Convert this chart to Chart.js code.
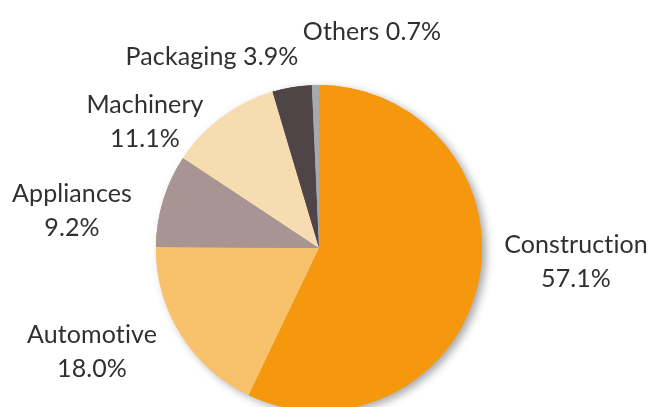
<!DOCTYPE html>
<html>
<head>
<meta charset="utf-8">
<script src="https://cdn.jsdelivr.net/npm/chart.js@4.4.1/dist/chart.umd.min.js"></script>
<style>
    html, body { margin: 0; padding: 0; background: #fff; overflow: hidden; }
    #wrap { width: 650px; height: 407px; overflow: hidden; }
    canvas { display: block; }
</style>
</head>
<body>
<div id="wrap"><canvas id="pieChart" width="650" height="420"></canvas></div>
<script>
// Market share by end use (%)
const categories = ['Construction', 'Automotive', 'Appliances', 'Machinery', 'Packaging', 'Others'];
const shares = [57.1, 18.0, 9.2, 11.1, 3.9, 0.7];
const sliceColors = ['#F6980E', '#F8C26C', '#A89593', '#F6DDB1', '#4F4446', '#A7A9AC'];

// where each label sits (text baseline, centred) and whether it wraps
const labelSpots = [
    { x: 576, y: 253, wrap: true },
    { x: 92, y: 343, wrap: true },
    { x: 72, y: 202, wrap: true },
    { x: 145, y: 113, wrap: true },
    { x: 212, y: 65, wrap: false },
    { x: 372, y: 40, wrap: false }
];

const pieExtras = {
    id: 'pieExtras',
    // soft drop shadow: draw the arcs once with a shadow, the normal pass covers the inner edges
    beforeDatasetsDraw(chart) {
        const ctx = chart.ctx;
        const meta = chart.getDatasetMeta(0);
        ctx.save();
        ctx.shadowColor = 'rgba(0, 0, 0, 0.35)';
        ctx.shadowBlur = 8;
        ctx.shadowOffsetX = 4;
        ctx.shadowOffsetY = 3;
        meta.data.forEach(arc => arc.draw(ctx));
        ctx.restore();
    },
    afterDraw(chart) {
        const ctx = chart.ctx;
        ctx.save();
        ctx.font = '25px Lato';
        ctx.letterSpacing = '0.1px'; // keeps Lato from joining "ti"
        ctx.fillStyle = '#303030';
        ctx.textAlign = 'center';
        ctx.textBaseline = 'alphabetic';
        categories.forEach((name, i) => {
            const spot = labelSpots[i];
            const pct = shares[i].toFixed(1) + '%';
            if (spot.wrap) {
                ctx.fillText(name, spot.x, spot.y);
                ctx.fillText(pct, spot.x, spot.y + 34);
            } else {
                ctx.fillText(name + ' ' + pct, spot.x, spot.y);
            }
        });
        ctx.restore();
    }
};

new Chart(document.getElementById('pieChart'), {
    type: 'pie',
    data: {
        labels: categories,
        datasets: [{
            data: shares,
            backgroundColor: sliceColors,
            borderWidth: 0,
            clip: false
        }]
    },
    options: {
        responsive: false,
        animation: false,
        events: [],
        radius: 163,
        layout: {
            padding: { left: 156, right: 168, top: 85, bottom: 9 }
        },
        plugins: {
            legend: { display: false },
            tooltip: { enabled: false },
            title: { display: false }
        }
    },
    plugins: [pieExtras]
});
</script>
</body>
</html>
